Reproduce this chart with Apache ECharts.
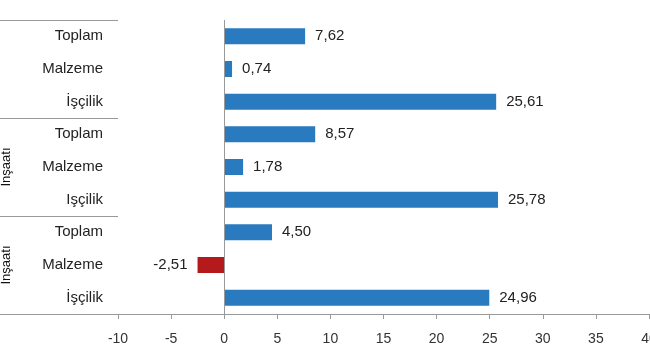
<!DOCTYPE html>
<html>
<head>
<meta charset="utf-8">
<script src="https://cdn.jsdelivr.net/npm/echarts@6/dist/echarts.min.js"></script>
<style>html,body{margin:0;padding:0;background:#fff;}#c{width:650px;height:360px;}</style>
</head>
<body>
<div id="c"></div>
<script>
const categories = ['Toplam', 'Malzeme', 'İşçilik', 'Toplam', 'Malzeme', 'Işçilik', 'Toplam', 'Malzeme', 'İşçilik'];
const values = [7.62, 0.74, 25.61, 8.57, 1.78, 25.78, 4.50, -2.51, 24.96];
const groups = ['', 'İnşaatı', 'İnşaatı'];
const xTicks = { min: -10, max: 40, interval: 5 };

const FONT = 'Liberation Sans, Arial, sans-serif';
const chart = echarts.init(document.getElementById('c'), null, { renderer: 'canvas' });
const dataItems = values.map(v => v < 0 ? { value: v, label: { position: 'left' } } : { value: v });
chart.setOption({
  animation: false,
  backgroundColor: '#fff',
  grid: { left: 118, right: 1, top: 20, bottom: 46, containLabel: false, outerBoundsMode: 'none' },
  xAxis: {
    type: 'value', min: xTicks.min, max: xTicks.max, interval: xTicks.interval,
    axisLine: { show: true, onZero: false, lineStyle: { color: '#999' } },
    axisTick: { show: true, length: 5, lineStyle: { color: '#999' } },
    splitLine: { show: false },
    axisLabel: { color: '#333', fontFamily: FONT, fontSize: 14, margin: 18,
      hideOverlap: false, showMaxLabel: true, showMinLabel: true,
      formatter: v => String(v) }
  },
  yAxis: [{
    type: 'category', data: categories, inverse: true,
    axisLine: { show: false }, axisTick: { show: false },
    axisLabel: { color: '#222', fontFamily: FONT, fontSize: 15, margin: 15 }
  }, {
    type: 'category', data: groups, inverse: true, position: 'left',
    axisLine: { show: false },
    axisTick: { show: true, length: 118, lineStyle: { color: '#999' } },
    axisLabel: { color: '#111', fontFamily: FONT, fontSize: 13, rotate: 90, margin: 112,
      align: 'center', verticalAlign: 'middle' }
  }],
  series: [{
    type: 'bar', data: dataItems, yAxisIndex: 0, barWidth: 16,
    itemStyle: { color: p => p.value < 0 ? '#b4191c' : '#2a7abf' },
    label: {
      show: true, fontFamily: FONT, fontSize: 15, color: '#222', distance: 10,
      position: 'right',
      formatter: p => p.value.toFixed(2).replace('.', ',')
    },
    markLine: {
      silent: true, symbol: 'none', label: { show: false },
      lineStyle: { color: '#999', type: 'solid', width: 1 },
      data: [{ xAxis: 0 }]
    }
  }]
});
</script>
</body>
</html>
